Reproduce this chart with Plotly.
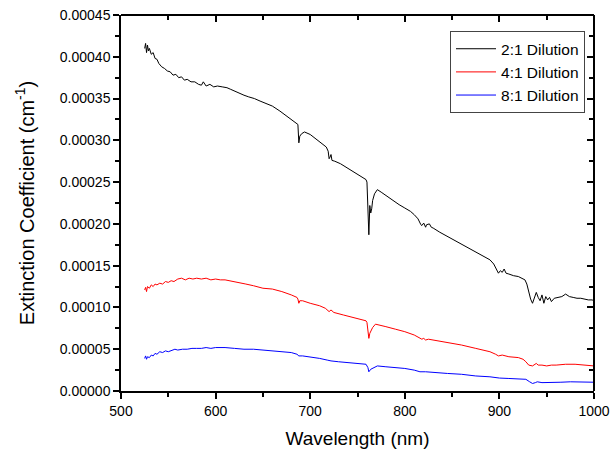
import plotly.graph_objects as go

black_wl = [525,526,527,528,529,530,532,534,536,538,540,543,546,549,552,555,558,561,564,567,570,574,578,582,585,587,590,594,598,602,607,612,616,620,625,630,635,641,647,654,660,668,675,680,684,687,688,689,691,694,700,706,712,717,719,720,721,722,723,726,732,738,745,752,759,760,761,762,763,764,765,766,768,770,771,775,780,787,794,800,806,810,814,817,818,820,821,822,823,826,828,830,837,845,855,865,875,886,890,894,897,899,901,903,905,907,910,915,920,924,927,929,931,933,935,937,939,941,943,945,947,949,951,953,955,958,962,966,970,974,978,982,986,990,994,998,1000]
black_val = [4.10,4.16,4.05,4.14,4.07,4.10,4.03,4.05,3.98,3.97,3.92,3.88,3.86,3.83,3.82,3.78,3.79,3.75,3.76,3.72,3.73,3.70,3.70,3.67,3.66,3.70,3.65,3.67,3.64,3.65,3.64,3.63,3.61,3.59,3.56,3.54,3.52,3.50,3.47,3.44,3.41,3.35,3.29,3.25,3.22,3.19,2.97,3.05,3.08,3.10,3.07,3.02,2.97,2.92,2.87,2.78,2.80,2.83,2.76,2.75,2.72,2.68,2.63,2.58,2.53,2.50,2.15,1.87,2.22,2.13,2.18,2.28,2.36,2.40,2.41,2.38,2.34,2.28,2.23,2.19,2.15,2.11,2.06,1.99,1.98,2.01,1.98,1.96,1.99,2.00,1.96,1.95,1.90,1.85,1.79,1.73,1.67,1.60,1.57,1.52,1.46,1.41,1.44,1.42,1.46,1.41,1.40,1.38,1.37,1.35,1.33,1.28,1.19,1.10,1.05,1.13,1.18,1.12,1.08,1.15,1.05,1.13,1.09,1.12,1.07,1.11,1.12,1.13,1.16,1.13,1.12,1.11,1.11,1.10,1.09,1.09,1.08]

red_wl = [525,526,527,528,530,532,534,536,538,541,544,547,550,553,556,560,564,568,572,576,580,585,590,595,600,605,610,615,620,626,632,640,650,660,670,680,686,687,688,689,692,700,710,716,718,720,722,725,735,745,755,759,760,761,762,763,764,766,769,772,780,790,800,810,815,818,820,822,825,835,845,860,875,890,896,899,903,910,920,925,928,931,935,939,941,945,950,955,960,970,980,990,1000]
red_val = [1.21,1.24,1.19,1.25,1.23,1.27,1.25,1.28,1.27,1.29,1.28,1.31,1.30,1.32,1.31,1.34,1.35,1.33,1.35,1.34,1.35,1.34,1.35,1.33,1.34,1.33,1.33,1.32,1.31,1.29,1.28,1.26,1.23,1.22,1.19,1.15,1.12,1.10,1.05,1.08,1.08,1.05,1.02,0.99,0.97,0.95,0.97,0.94,0.91,0.88,0.85,0.84,0.82,0.72,0.63,0.69,0.71,0.76,0.80,0.79,0.77,0.74,0.71,0.67,0.64,0.62,0.63,0.61,0.62,0.60,0.58,0.55,0.51,0.47,0.44,0.42,0.43,0.41,0.40,0.38,0.35,0.31,0.30,0.33,0.31,0.31,0.30,0.31,0.31,0.32,0.32,0.31,0.30]

blue_wl = [525,526,527,528,530,532,534,536,538,541,544,547,550,554,557,560,565,570,575,580,585,590,595,600,605,610,620,630,640,650,660,670,680,686,688,692,700,710,718,722,730,740,750,759,761,762,764,767,771,780,790,800,810,816,822,830,845,860,875,890,896,900,910,920,928,932,935,938,940,945,955,965,975,985,995,1000]
blue_val = [0.39,0.42,0.38,0.41,0.40,0.43,0.42,0.45,0.44,0.47,0.46,0.48,0.47,0.49,0.50,0.49,0.50,0.50,0.51,0.51,0.51,0.52,0.51,0.52,0.52,0.52,0.51,0.50,0.50,0.49,0.48,0.47,0.46,0.44,0.42,0.42,0.41,0.39,0.37,0.36,0.35,0.34,0.33,0.32,0.28,0.23,0.26,0.28,0.30,0.29,0.28,0.27,0.25,0.23,0.23,0.22,0.21,0.20,0.18,0.17,0.16,0.155,0.15,0.145,0.14,0.11,0.09,0.10,0.11,0.10,0.10,0.105,0.11,0.11,0.11,0.105]

SCALE = 1e-4
series = [
    ("2:1 Dilution", black_wl, black_val, "black"),
    ("4:1 Dilution", red_wl, red_val, "red"),
    ("8:1 Dilution", blue_wl, blue_val, "blue"),
]

x_ticks = [500, 600, 700, 800, 900, 1000]
y_ticks = [0, 0.00005, 0.0001, 0.00015, 0.0002, 0.00025, 0.0003, 0.00035, 0.0004, 0.00045]

FONT = "Arial, Liberation Sans, sans-serif"

fig = go.Figure()
for name, wl, val, col in series:
    fig.add_trace(go.Scatter(x=wl, y=[v * SCALE for v in val], mode="lines", name=name,
                             line=dict(color=col, width=1)))
# invisible trace that carries the mirrored (top/right) axes
fig.add_trace(go.Scatter(x=[x_ticks[0]], y=[y_ticks[0]], xaxis="x2", yaxis="y2", mode="markers",
                         marker=dict(opacity=0, size=1), showlegend=False, hoverinfo="skip"))

axis_common = dict(showline=True, linecolor="black", linewidth=1.5, showgrid=False,
                   zeroline=False, ticklen=6, tickwidth=1.5, tickcolor="black", automargin=False)
mirror_common = dict(showline=True, linecolor="black", linewidth=1.5, showgrid=False,
                     zeroline=False, ticklen=6, tickwidth=1.5, tickcolor="black", automargin=False,
                     showticklabels=False, ticks="inside", anchor="free", position=1)

fig.update_layout(
    width=614, height=454,
    margin=dict(l=121, r=20, t=15, b=63),
    paper_bgcolor="white", plot_bgcolor="white",
    font=dict(family=FONT, color="black", size=14),
    showlegend=True,
    legend=dict(x=0.981, y=0.957, xanchor="right", yanchor="top",
                bgcolor="white", bordercolor="#444", borderwidth=1,
                font=dict(size=15.5, family=FONT), tracegroupgap=0, itemwidth=40),
    xaxis=dict(range=[500, 1000], tickvals=x_ticks, ticks="outside",
               minor=dict(dtick=50, tick0=500, ticks="outside", ticklen=4, tickwidth=1.5, tickcolor="black"),
               title=dict(text="Wavelength (nm)", font=dict(size=19, family=FONT), standoff=14),
               tickfont=dict(size=14, family=FONT), **axis_common),
    yaxis=dict(range=[0, 0.00045], tickvals=y_ticks, tickformat=".5f", ticks="outside",
               minor=dict(dtick=0.000025, tick0=0, ticks="outside", ticklen=4, tickwidth=1.5, tickcolor="black"),
               title=dict(text="Extinction Coefficient (cm<sup>-1</sup>)", font=dict(size=20, family=FONT), standoff=20),
               tickfont=dict(size=14, family=FONT), **axis_common),
    xaxis2=dict(overlaying="x", side="top", range=[500, 1000], tickvals=x_ticks,
                minor=dict(dtick=50, tick0=500, ticks="inside", ticklen=4, tickwidth=1.5, tickcolor="black"),
                **mirror_common),
    yaxis2=dict(overlaying="y", side="right", range=[0, 0.00045], tickvals=y_ticks,
                minor=dict(dtick=0.000025, tick0=0, ticks="inside", ticklen=4, tickwidth=1.5, tickcolor="black"),
                **mirror_common),
)

fig.write_html("out.html", config={"displayModeBar": False},
               post_script="document.body.style.margin='0';")
